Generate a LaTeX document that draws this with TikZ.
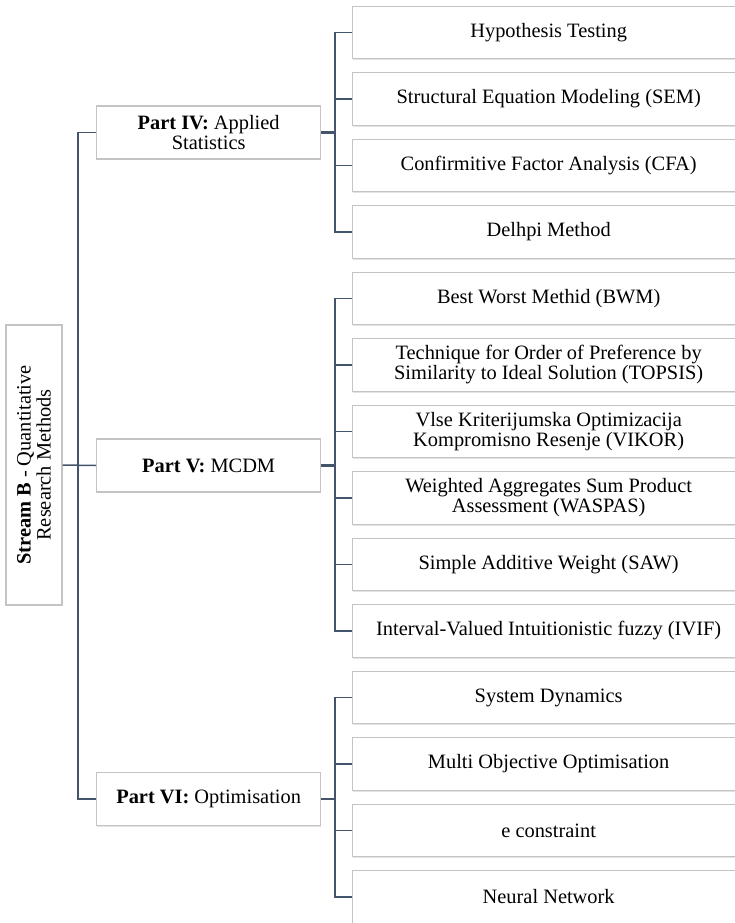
\documentclass[tikz,border=0pt]{standalone}
\usepackage{fontspec}
\setmainfont{Liberation Serif}
\usetikzlibrary{shadows}
\definecolor{linkcol}{HTML}{44546A}
\definecolor{boxline}{HTML}{C4C4C4}
\tikzset{
  box/.style={draw=boxline, line width=1.3pt, fill=white, inner sep=0pt,
    align=center, font=\fontsize{20.4}{20}\selectfont,
    drop shadow={opacity=0.22, shadow xshift=0.4pt, shadow yshift=-1.4pt}},
  leaf/.style={box, anchor=west, minimum width=392pt, minimum height=52.5pt},
  part/.style={box, anchor=west, minimum width=224pt, minimum height=53pt},
  conn/.style={draw=linkcol, line width=1.5pt},
  thickconn/.style={draw=linkcol, line width=2.6pt}
}
\begin{document}
\begin{tikzpicture}[x=1pt, y=-1pt]
\useasboundingbox (0,0) rectangle (735,923);
\clip (0,0) rectangle (735,923);

% root box, text running bottom to top
\node[box, rotate=90, minimum width=280pt, minimum height=56pt] (root) at (34,465)
  {\textbf{Stream B} - Quantitative\\Research Methods};

% second level
\node[part] (p4) at (96,132.5) {\textbf{Part IV:} Applied\\Statistics};
\node[part] (p5) at (96,465.5) {\textbf{Part V:} MCDM};
\node[part] (p6) at (96,799) {\textbf{Part VI:} Optimisation};

% leaves
\node[leaf] (l1)  at (352,32.5)  {Hypothesis Testing};
\node[leaf] (l2)  at (352,99)    {Structural Equation Modeling (SEM)};
\node[leaf] (l3)  at (352,165.5) {Confirmitive Factor Analysis (CFA)};
\node[leaf] (l4)  at (352,232)   {Delhpi Method};
\node[leaf] (l5)  at (352,298.5) {Best Worst Methid (BWM)};
\node[leaf] (l6)  at (352,365)   {Technique for Order of Preference by\\Similarity to Ideal Solution (TOPSIS)};
\node[leaf] (l7)  at (352,431.5) {Vlse Kriterijumska Optimizacija\\Kompromisno Resenje (VIKOR)};
\node[leaf] (l8)  at (352,498)   {Weighted Aggregates Sum Product\\Assessment (WASPAS)};
\node[leaf] (l9)  at (352,564.5) {Simple Additive Weight (SAW)};
\node[leaf] (l10) at (352,631)   {Interval-Valued Intuitionistic fuzzy (IVIF)};
\node[leaf] (l11) at (352,697.5) {System Dynamics};
\node[leaf] (l12) at (352,764)   {Multi Objective Optimisation};
\node[leaf] (l13) at (352,830.5) {e constraint};
\node[leaf] (l14) at (352,897)   {Neural Network};

% trunk positions
\coordinate (ta) at (78,0);
\coordinate (tb) at (335,0);

% root to parts
\draw[conn] (root.south) -- (p5.west);
\draw[conn] (p4.west) -- (p4.west -| ta) -- (p6.west -| ta) -- (p6.west);

% part IV branch
\draw[thickconn] (p4.east) -- (p4.east -| tb);
\draw[conn] (l1.west) -- (l1.west -| tb) -- (l4.west -| tb) -- (l4.west);
\draw[conn] (l2.west) -- (l2.west -| tb);
\draw[conn] (l3.west) -- (l3.west -| tb);

% part V branch
\draw[thickconn] (p5.east) -- (p5.east -| tb);
\draw[conn] (l5.west) -- (l5.west -| tb) -- (l10.west -| tb) -- (l10.west);
\foreach \n in {l6,l7,l8,l9} \draw[conn] (\n.west) -- (\n.west -| tb);

% part VI branch
\draw[thickconn] (p6.east) -- (p6.east -| tb);
\draw[conn] (l11.west) -- (l11.west -| tb) -- (l14.west -| tb) -- (l14.west);
\foreach \n in {l12,l13} \draw[conn] (\n.west) -- (\n.west -| tb);
\end{tikzpicture}
\end{document}
